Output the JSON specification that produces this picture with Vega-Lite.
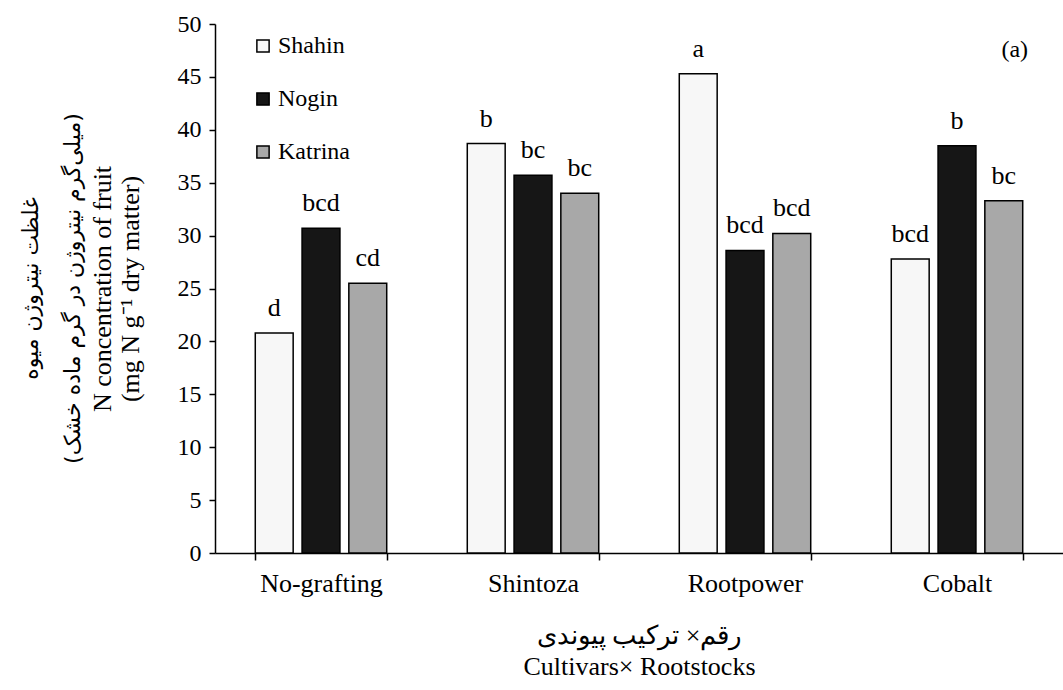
{
  "$schema": "https://vega.github.io/schema/vega-lite/v6.json",
  "width": 848,
  "height": 529,
  "autosize": {"type": "none"},
  "padding": {"left": 215, "top": 24, "right": 0, "bottom": 137},
  "background": "white",
  "config": {
    "font": "Liberation Serif",
    "view": {"stroke": null},
    "text": {"font": "Liberation Serif"},
    "legend": {"labelFont": "Liberation Serif"},
    "axis": {"labelFont": "Liberation Serif", "titleFont": "Liberation Serif", "domainColor": "black", "tickColor": "black", "labelColor": "black", "titleColor": "black", "titleFontWeight": "normal", "grid": false, "domainWidth": 1.5, "tickWidth": 1.5}
  },
  "title": {
    "text": "غلظت نیتروژن میوه",
    "subtitle": "(میلی‌گرم نیتروژن در گرم ماده خشک)",
    "orient": "left",
    "anchor": "middle",
    "fontSize": 22,
    "subtitleFontSize": 22,
    "fontWeight": "normal",
    "font": "DejaVu Sans",
    "subtitleFont": "DejaVu Sans",
    "color": "black",
    "subtitleColor": "black",
    "offset": 4,
    "subtitlePadding": 20
  },
  "data": {
    "values": [
      {"rootstock": "No-grafting", "cultivar": "Shahin", "value": 20.8, "letter": "d"},
      {"rootstock": "No-grafting", "cultivar": "Nogin", "value": 30.7, "letter": "bcd"},
      {"rootstock": "No-grafting", "cultivar": "Katrina", "value": 25.5, "letter": "cd"},
      {"rootstock": "Shintoza", "cultivar": "Shahin", "value": 38.7, "letter": "b"},
      {"rootstock": "Shintoza", "cultivar": "Nogin", "value": 35.7, "letter": "bc"},
      {"rootstock": "Shintoza", "cultivar": "Katrina", "value": 34.0, "letter": "bc"},
      {"rootstock": "Rootpower", "cultivar": "Shahin", "value": 45.3, "letter": "a"},
      {"rootstock": "Rootpower", "cultivar": "Nogin", "value": 28.6, "letter": "bcd"},
      {"rootstock": "Rootpower", "cultivar": "Katrina", "value": 30.2, "letter": "bcd"},
      {"rootstock": "Cobalt", "cultivar": "Shahin", "value": 27.8, "letter": "bcd"},
      {"rootstock": "Cobalt", "cultivar": "Nogin", "value": 38.5, "letter": "b"},
      {"rootstock": "Cobalt", "cultivar": "Katrina", "value": 33.3, "letter": "bc"}
    ]
  },
  "layer": [
    {
      "mark": {"type": "bar", "stroke": "black", "strokeWidth": 1.5},
      "encoding": {
        "x": {
          "field": "rootstock", "type": "nominal",
          "sort": ["No-grafting", "Shintoza", "Rootpower", "Cobalt"],
          "scale": {"paddingInner": 0.38, "paddingOuter": 0.19},
          "axis": {
            "title": ["رقم× ترکیب پیوندی", "Cultivars× Rootstocks"],
            "labelAngle": 0, "labelFontSize": 26, "tickBand": "extent", "tickSize": 7,
            "labelPadding": 10, "titleFontSize": 26, "titlePadding": 26, "titleLineHeight": 31
          }
        },
        "xOffset": {
          "field": "cultivar", "type": "nominal",
          "sort": ["Shahin", "Nogin", "Katrina"],
          "scale": {"paddingInner": 0.19, "paddingOuter": 0}
        },
        "y": {
          "field": "value", "type": "quantitative",
          "scale": {"domain": [0, 50]},
          "axis": {
            "title": ["N concentration of fruit", "(mg N g⁻¹ dry matter)"],
            "values": [0, 5, 10, 15, 20, 25, 30, 35, 40, 45, 50],
            "labelFontSize": 24, "tickSize": 6, "labelPadding": 8,
            "titleFontSize": 26, "titleLineHeight": 28, "titlePadding": 34
          }
        },
        "fill": {
          "field": "cultivar", "type": "nominal",
          "sort": ["Shahin", "Nogin", "Katrina"],
          "scale": {"domain": ["Shahin", "Nogin", "Katrina"], "range": ["#f7f7f7", "#161616", "#a8a8a8"]},
          "legend": {
            "orient": "none", "legendX": 36, "legendY": 10, "title": null,
            "symbolType": "square", "symbolSize": 150, "symbolStrokeColor": "black",
            "symbolStrokeWidth": 1.5, "labelFontSize": 24, "labelFont": "Liberation Serif", "labelColor": "black",
            "rowPadding": 29, "labelOffset": 3
          }
        }
      }
    },
    {
      "mark": {"type": "text", "dy": -17, "baseline": "alphabetic", "fontSize": 26, "font": "Liberation Serif", "color": "black"},
      "encoding": {
        "x": {"field": "rootstock", "type": "nominal", "sort": ["No-grafting", "Shintoza", "Rootpower", "Cobalt"]},
        "xOffset": {"field": "cultivar", "type": "nominal", "sort": ["Shahin", "Nogin", "Katrina"]},
        "y": {"field": "value", "type": "quantitative"},
        "text": {"field": "letter"}
      }
    },
    {
      "data": {"values": [{"rootstock": "Cobalt", "cultivar": "Katrina", "value": 47.5, "label": "(a)"}]},
      "mark": {"type": "text", "dx": 11, "baseline": "middle", "fontSize": 24, "font": "Liberation Serif", "color": "black"},
      "encoding": {
        "x": {"field": "rootstock", "type": "nominal", "sort": ["No-grafting", "Shintoza", "Rootpower", "Cobalt"]},
        "xOffset": {"field": "cultivar", "type": "nominal", "sort": ["Shahin", "Nogin", "Katrina"]},
        "y": {"field": "value", "type": "quantitative"},
        "text": {"field": "label"}
      }
    }
  ]
}
